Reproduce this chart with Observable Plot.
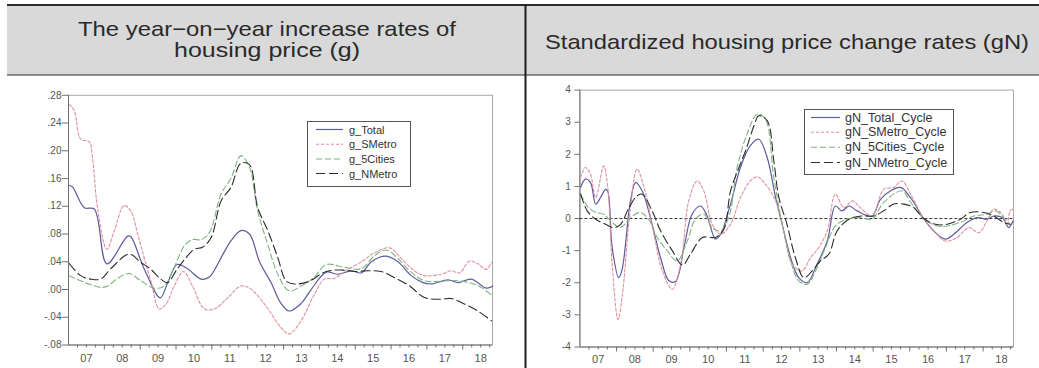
<!DOCTYPE html>
<html><head><meta charset="utf-8">
<script src="https://cdn.jsdelivr.net/npm/d3@7"></script>
<script src="https://cdn.jsdelivr.net/npm/@observablehq/plot@0.6"></script>
<style>
html,body{margin:0;padding:0;background:#fff}
#root{position:relative;width:1039px;height:368px;overflow:hidden;font-family:"Liberation Sans",Arial,sans-serif}
.abs{position:absolute}
</style></head><body>
<div id="root"></div>
<script>
// ---------- header texts ----------
const titleLeft = ["The year\u2212on\u2212year increase rates of", "housing price (g)"];
const titleRight = "Standardized housing price change rates (gN)";

// ---------- shared x ticks ----------
const yearLabels = ["07","08","09","10","11","12","13","14","15","16","17","18"];
const yearStarts = [2007,2008,2009,2010,2011,2012,2013,2014,2015,2016,2017,2018];
const xDomain = [2007, 2018.83];

// ---------- left chart: g ----------
const gTicks = [-0.08,-0.04,0,0.04,0.08,0.12,0.16,0.20,0.24,0.28];
const gNames = ["g_Total","g_SMetro","g_5Cities","g_NMetro"];

const gTotalT = [2007.02,2007.11,2007.44,2007.72,2008.07,2008.65,2008.74,2009.11,2009.56,2009.77,2010.03,2010.32,2010.70,2010.93,2011.30,2011.53,2011.81,2012.05,2012.33,2012.65,2012.93,2013.16,2013.49,2013.77,2014.19,2014.51,2014.89,2015.17,2015.45,2015.86,2016.19,2016.56,2016.89,2017.12,2017.59,2017.87,2018.24,2018.66,2018.84];
const gTotalV = [0.150,0.148,0.118,0.116,0.037,0.077,0.076,0.030,-0.012,0.010,0.036,0.030,0.015,0.018,0.050,0.070,0.085,0.080,0.040,0.010,-0.020,-0.031,-0.020,0.000,0.025,0.022,0.027,0.024,0.040,0.048,0.040,0.020,0.010,0.008,0.014,0.010,0.015,0.002,0.005];

const gSMetroT = [2007.02,2007.16,2007.34,2007.58,2007.67,2007.81,2008.07,2008.28,2008.55,2008.74,2008.93,2009.11,2009.30,2009.53,2009.72,2009.95,2010.21,2010.46,2010.79,2011.07,2011.44,2011.81,2012.05,2012.47,2012.93,2013.16,2013.49,2013.86,2014.14,2014.42,2014.70,2015.17,2015.54,2015.96,2016.28,2016.65,2016.93,2017.40,2017.68,2017.91,2018.19,2018.42,2018.66,2018.80];
const gSMetroV = [0.267,0.258,0.217,0.213,0.190,0.118,0.058,0.085,0.121,0.113,0.080,0.046,0.0125,-0.028,-0.021,0.005,0.026,0.005,-0.028,-0.028,-0.012,0.005,0.002,-0.021,-0.055,-0.064,-0.045,-0.007,0.015,0.016,0.026,0.040,0.053,0.060,0.045,0.027,0.020,0.022,0.027,0.024,0.041,0.037,0.029,0.039];

const g5CitiesT = [2007.02,2007.34,2007.62,2007.90,2008.09,2008.37,2008.69,2009.02,2009.39,2009.67,2009.95,2010.23,2010.46,2010.70,2010.93,2011.26,2011.53,2011.81,2012.05,2012.28,2012.56,2012.84,2013.16,2013.49,2013.86,2014.19,2014.70,2015.17,2015.54,2015.86,2016.19,2016.52,2016.93,2017.40,2017.77,2018.24,2018.52,2018.80];
const g5CitiesV = [0.020,0.0125,0.007,0.003,0.005,0.016,0.023,0.0125,0.002,0.005,0.032,0.063,0.072,0.072,0.082,0.138,0.160,0.193,0.176,0.113,0.065,0.022,-0.002,0.005,0.018,0.036,0.032,0.030,0.049,0.057,0.045,0.027,0.0125,0.012,0.013,0.009,0.003,-0.008];

const gNMetroT = [2007.02,2007.34,2007.62,2007.90,2008.18,2008.69,2009.02,2009.30,2009.53,2009.77,2010.00,2010.28,2010.51,2010.74,2010.98,2011.26,2011.53,2011.81,2012.05,2012.28,2012.56,2012.84,2013.07,2013.30,2013.68,2014.19,2014.70,2014.98,2015.35,2015.72,2016.10,2016.52,2016.93,2017.40,2017.68,2018.05,2018.42,2018.80];
const gNMetroV = [0.0375,0.020,0.015,0.015,0.030,0.051,0.039,0.029,0.017,0.010,0.027,0.046,0.058,0.061,0.075,0.128,0.147,0.182,0.180,0.118,0.085,0.046,0.0125,0.008,0.011,0.026,0.028,0.026,0.027,0.026,0.017,0.005,-0.0115,-0.014,-0.013,-0.021,-0.031,-0.045];

// ---------- right chart: gN ----------
const gnTicks = [-4,-3,-2,-1,0,1,2,3,4];
const gnNames = ["gN_Total_Cycle","gN_SMetro_Cycle","gN_5Cities_Cycle","gN_NMetro_Cycle"];

const gnTotalT = [2007.02,2007.15,2007.29,2007.43,2007.56,2007.70,2007.76,2007.88,2008.06,2008.15,2008.38,2008.52,2008.70,2008.97,2009.20,2009.43,2009.61,2009.84,2010.06,2010.29,2010.47,2010.70,2010.84,2011.11,2011.38,2011.65,2011.88,2012.11,2012.34,2012.52,2012.75,2012.97,2013.20,2013.47,2013.75,2013.97,2014.15,2014.34,2014.56,2014.97,2015.20,2015.47,2015.75,2016.02,2016.38,2016.65,2016.97,2017.20,2017.56,2017.84,2018.11,2018.29,2018.52,2018.70,2018.82];
const gnTotalV = [0.97,1.23,1.12,0.45,0.65,0.91,0.85,-0.9,-1.84,-1.6,0.55,1.12,0.86,-0.18,-1.22,-1.94,-1.96,-0.9,0.135,0.39,0.08,-0.64,-0.49,0.45,1.59,2.27,2.47,1.9,0.65,-0.18,-1.22,-1.84,-2.0,-1.42,-0.7,0.39,0.24,0.39,0.24,0.08,0.6,0.86,0.97,0.65,0,-0.38,-0.64,-0.49,-0.12,0.03,-0.02,0.08,0.03,-0.28,-0.07];

const gnSMetroT = [2007.02,2007.15,2007.29,2007.43,2007.65,2007.76,2007.88,2008.04,2008.15,2008.38,2008.56,2008.75,2009.02,2009.25,2009.52,2009.75,2009.97,2010.20,2010.38,2010.61,2010.84,2011.11,2011.38,2011.65,2011.84,2012.06,2012.34,2012.56,2012.79,2013.06,2013.29,2013.52,2013.75,2013.97,2014.20,2014.43,2014.65,2014.97,2015.29,2015.56,2015.79,2016.02,2016.38,2016.65,2016.97,2017.29,2017.61,2017.88,2018.11,2018.29,2018.52,2018.65,2018.74,2018.82];
const gnSMetroV = [1.28,1.59,1.38,0.65,1.64,0.97,-1.42,-3.14,-2.46,0.34,1.54,0.97,-0.49,-1.63,-2.2,-1.42,0.55,1.17,0.86,-0.18,-0.49,-0.18,0.65,1.17,1.3,1.07,0.55,-0.38,-1.42,-1.63,-1.22,-0.9,-0.38,0.76,0.34,0.55,0.34,0.08,0.91,0.97,1.17,0.76,0,-0.38,-0.7,-0.59,-0.28,-0.44,-0.07,0.29,0.14,-0.18,0.24,0.29];

const gn5CitiesT = [2007.02,2007.20,2007.43,2007.65,2007.88,2008.11,2008.38,2008.64,2008.84,2009.11,2009.38,2009.65,2009.93,2010.15,2010.38,2010.61,2010.84,2011.06,2011.29,2011.56,2011.84,2012.06,2012.29,2012.52,2012.75,2012.97,2013.20,2013.43,2013.70,2013.97,2014.29,2014.65,2014.97,2015.25,2015.56,2015.79,2016.06,2016.38,2016.75,2017.02,2017.38,2017.75,2018.11,2018.34,2018.56,2018.74];
const gn5CitiesV = [0.76,0.39,0.19,0.135,-0.12,-0.28,0.03,0.19,0.03,-0.59,-1.0,-1.32,-0.7,-0.02,0.14,-0.28,-0.38,0.03,1.59,2.63,3.25,3.1,1.28,-0.18,-1.32,-1.94,-2.05,-1.63,-0.9,-0.23,-0.02,0.03,-0.02,0.45,0.76,0.86,0.45,0,-0.23,-0.23,-0.12,0.08,0.135,0.24,0.03,-0.18];

const gnNMetroT = [2007.02,2007.20,2007.43,2007.70,2007.93,2008.11,2008.34,2008.56,2008.70,2008.97,2009.20,2009.52,2009.80,2010.02,2010.34,2010.56,2010.70,2010.93,2011.11,2011.34,2011.52,2011.75,2011.88,2012.11,2012.29,2012.43,2012.65,2012.88,2013.11,2013.34,2013.56,2013.79,2014.02,2014.34,2014.70,2015.02,2015.29,2015.56,2015.84,2016.11,2016.38,2016.70,2017.02,2017.38,2017.65,2018.02,2018.29,2018.56,2018.74];
const gnNMetroV = [0.76,0.24,-0.02,-0.18,-0.28,-0.18,0.34,0.71,0.76,0.24,-0.38,-1.0,-1.45,-1.1,-0.59,-0.59,-0.59,-0.33,0.86,1.59,2.11,2.89,3.2,3.05,1.8,0.65,-0.18,-1.22,-1.84,-1.63,-1.32,-1.11,-0.38,-0.02,0.08,0.08,0.24,0.45,0.45,0.34,0,-0.18,-0.18,-0.02,0.19,0.19,0.08,-0.12,-0.18];

// ---------- styles ----------
const styles = [
  {stroke:"#5c5c9e", dash:null, w:1.2},
  {stroke:"#e0909b", dash:"3,2", w:1.1},
  {stroke:"#80b480", dash:"6,3", w:1.1},
  {stroke:"#2c2c2c", dash:"9,4", w:1.1}
];

function rows(T, V, name) { return T.map((t, i) => ({t, v: V[i], name})); }

function axesMarks(yTicks, yFmt, yPad, yTickSize, xPad) {
  const minor = [];
  for (const y of yearStarts) for (const q of [0.25, 0.5, 0.75]) if (y + q < xDomain[1]) minor.push(y + q);
  return [
    Plot.frame({stroke: "#a8a8a8"}),
    Plot.ruleX([xDomain[0]], {stroke: "#707070"}),
    Plot.ruleY([yTicks[0]], {stroke: "#707070"}),
    Plot.axisY({ticks: yTicks, tickFormat: yFmt, tickSize: yTickSize, tickPadding: yPad, fontSize: 10, stroke: "#707070", label: null}),
    Plot.axisX({ticks: yearStarts.slice(1), tickSize: 5, tickFormat: () => "", stroke: "#707070", label: null}),
    Plot.axisX({ticks: minor, tickSize: 3, tickFormat: () => "", stroke: "#707070", label: null}),
    Plot.axisX({ticks: yearStarts.map(y => y + 0.5), tickSize: 0, tickPadding: xPad, fontSize: 11, label: null,
      tickFormat: d => yearLabels[yearStarts.indexOf(Math.round(d - 0.5))]})
  ];
}

function lineMarks(series) {
  return series.map((s, i) => Plot.line(s, {x: "t", y: "v", stroke: styles[i].stroke,
    strokeDasharray: styles[i].dash, strokeWidth: styles[i].w, curve: "catmull-rom"}));
}

const root = document.getElementById("root");

// left plot
const gFmt = d => d === 0 ? ".00" : (d < 0 ? "-" : "") + Math.abs(d).toFixed(2).replace(/^0/, "");
const left = Plot.plot({
  width: 525, height: 288,
  marginLeft: 68, marginRight: 33, marginTop: 14.8, marginBottom: 23.5,
  x: {domain: xDomain, label: null}, y: {domain: [gTicks[0], gTicks[gTicks.length - 1]], label: null},
  style: {color: "#555", fontFamily: "'Liberation Sans', Arial, sans-serif", background: "transparent"},
  marks: [
    ...axesMarks(gTicks, gFmt, 1, 6, 9),
    ...lineMarks([rows(gTotalT, gTotalV, gNames[0]), rows(gSMetroT, gSMetroV, gNames[1]),
                  rows(g5CitiesT, g5CitiesV, gNames[2]), rows(gNMetroT, gNMetroV, gNames[3])])
  ]
});
left.classList.add("abs"); left.style.left = "0px"; left.style.top = "80px";
root.appendChild(left);

// right plot
const right = Plot.plot({
  width: 512, height: 288,
  marginLeft: 52.4, marginRight: 26, marginTop: 9.6, marginBottom: 21.5,
  x: {domain: xDomain, label: null}, y: {domain: [gnTicks[0], gnTicks[gnTicks.length - 1]], label: null},
  style: {color: "#555", fontFamily: "'Liberation Sans', Arial, sans-serif", background: "transparent"},
  marks: [
    ...axesMarks(gnTicks, d => String(d), 4, 5, 8),
    Plot.ruleY([0], {stroke: "#333", strokeDasharray: "3,2"}),
    ...lineMarks([rows(gnTotalT, gnTotalV, gnNames[0]), rows(gnSMetroT, gnSMetroV, gnNames[1]),
                  rows(gn5CitiesT, gn5CitiesV, gnNames[2]), rows(gnNMetroT, gnNMetroV, gnNames[3])])
  ]
});
right.classList.add("abs"); right.style.left = "527px"; right.style.top = "80px";
root.appendChild(right);

// legends
function legend(names, x, y, w, h, rowY, lx0, lx1, tx, fs) {
  const ns = "http://www.w3.org/2000/svg";
  const svg = document.createElementNS(ns, "svg");
  svg.setAttribute("width", 1039); svg.setAttribute("height", 368);
  svg.setAttribute("class", "abs"); svg.style.left = "0px"; svg.style.top = "0px";
  const r = document.createElementNS(ns, "rect");
  Object.entries({x: x + 0.5, y: y + 0.5, width: w, height: h, fill: "#fff", stroke: "#555", "stroke-width": 1})
    .forEach(([k, v]) => r.setAttribute(k, v));
  svg.appendChild(r);
  names.forEach((n, i) => {
    const l = document.createElementNS(ns, "line");
    const attrs = {x1: lx0, x2: lx1, y1: rowY[i], y2: rowY[i], stroke: styles[i].stroke, "stroke-width": styles[i].w};
    if (styles[i].dash) attrs["stroke-dasharray"] = styles[i].dash;
    Object.entries(attrs).forEach(([k, v]) => l.setAttribute(k, v));
    svg.appendChild(l);
    const t = document.createElementNS(ns, "text");
    Object.entries({x: tx, y: rowY[i], "dominant-baseline": "central", "font-size": fs, fill: "#333",
      "font-family": "'Liberation Sans', Arial, sans-serif"}).forEach(([k, v]) => t.setAttribute(k, v));
    t.textContent = n;
    svg.appendChild(t);
  });
  root.appendChild(svg);
}
legend(gNames, 307, 121, 103, 65, [129.5, 144.3, 159, 173.5], 316, 343, 349, 11);
legend(gnNames, 804, 109, 149, 65, [117.5, 132.3, 147.3, 162.5], 811, 840, 845, 12.5);

// header table
(function header() {
  const ns = "http://www.w3.org/2000/svg";
  const svg = document.createElementNS(ns, "svg");
  svg.setAttribute("width", 1039); svg.setAttribute("height", 368);
  svg.setAttribute("class", "abs"); svg.style.left = "0px"; svg.style.top = "0px";
  const add = (tag, attrs, text) => {
    const e = document.createElementNS(ns, tag);
    Object.entries(attrs).forEach(([k, v]) => e.setAttribute(k, v));
    if (text) e.textContent = text;
    svg.appendChild(e);
    return e;
  };
  add("rect", {x: 7, y: 5, width: 1032, height: 70, fill: "#d9d9d9"});
  add("line", {x1: 7, x2: 1039, y1: 5, y2: 5, stroke: "#2a2a2a", "stroke-width": 2});
  add("line", {x1: 7, x2: 1039, y1: 75, y2: 75, stroke: "#2a2a2a", "stroke-width": 1.2});
  add("line", {x1: 525.5, x2: 525.5, y1: 4, y2: 368, stroke: "#1e1e1e", "stroke-width": 2});
  const f = {"font-family": "'Liberation Sans Narrow','Liberation Sans',sans-serif", "font-size": 21, fill: "#2a2a2a",
    "text-anchor": "middle", "lengthAdjust": "spacingAndGlyphs"};
  add("text", {...f, x: 267, y: 36, textLength: 378}, titleLeft[0]);
  add("text", {...f, x: 267, y: 57, textLength: 186}, titleLeft[1]);
  add("text", {...f, x: 787, y: 49, textLength: 484}, titleRight);
  root.appendChild(svg);
})();
</script>
</body></html>
